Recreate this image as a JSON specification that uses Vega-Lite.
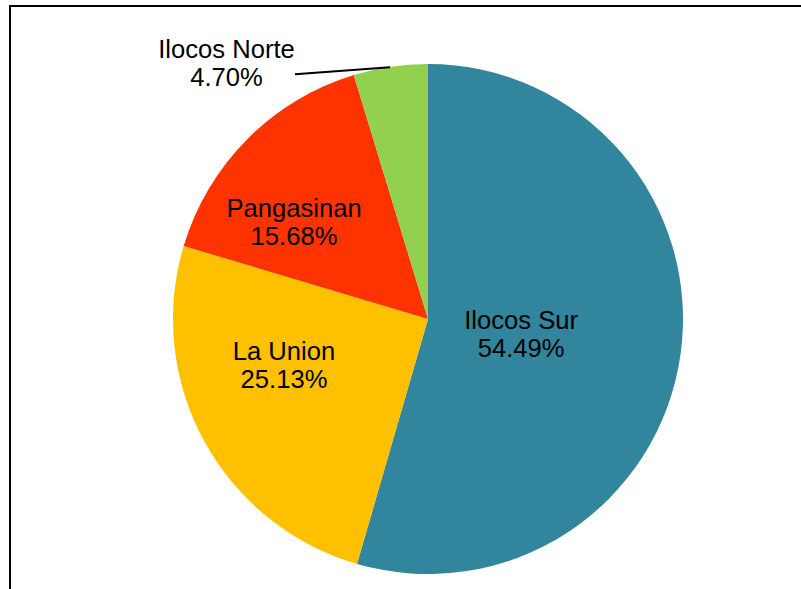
{
  "$schema": "https://vega.github.io/schema/vega-lite/v6.json",
  "width": 836,
  "height": 626,
  "autosize": {"type": "none"},
  "padding": {"left": 10, "top": 6, "right": -45, "bottom": -43},
  "background": "#ffffff",
  "config": {"view": {"stroke": "#000000", "strokeWidth": 2}},
  "data": {"values": [
    {"province": "Ilocos Sur", "share": 0.5449},
    {"province": "La Union", "share": 0.2513},
    {"province": "Pangasinan", "share": 0.1568},
    {"province": "Ilocos Norte", "share": 0.0470}
  ]},
  "layer": [
    {
      "mark": {"type": "arc", "outerRadius": 255},
      "encoding": {
        "theta": {"field": "share", "type": "quantitative", "stack": true},
        "order": {"field": "share", "sort": "descending"},
        "color": {"field": "province", "type": "nominal",
          "scale": {"domain": ["Ilocos Sur", "La Union", "Pangasinan", "Ilocos Norte"], "range": ["#31859C", "#FFC000", "#FF3300", "#92D050"]},
          "legend": null}
      }
    },
    {
      "mark": {"type": "text", "radius": 94, "dy": -3, "font": "Liberation Sans", "fontSize": 25.6, "baseline": "alphabetic", "align": "center", "color": "#000000"},
      "encoding": {
        "theta": {"field": "share", "type": "quantitative", "stack": true},
        "order": {"field": "share", "sort": "descending"},
        "text": {"condition": {"test": "datum.province === 'Ilocos Sur'", "field": "province"}, "value": ""}
      }
    },
    {
      "mark": {"type": "text", "radius": 94, "dy": 25, "font": "Liberation Sans", "fontSize": 25.6, "baseline": "alphabetic", "align": "center", "color": "#000000"},
      "encoding": {
        "theta": {"field": "share", "type": "quantitative", "stack": true},
        "order": {"field": "share", "sort": "descending"},
        "text": {"condition": {"test": "datum.province === 'Ilocos Sur'", "field": "share", "format": ".2%"}, "value": ""}
      }
    },
    {
      "mark": {"type": "text", "radius": 164, "dy": -38, "font": "Liberation Sans", "fontSize": 25.6, "baseline": "alphabetic", "align": "center", "color": "#000000"},
      "encoding": {
        "theta": {"field": "share", "type": "quantitative", "stack": true},
        "order": {"field": "share", "sort": "descending"},
        "text": {"condition": {"test": "datum.province === 'La Union'", "field": "province"}, "value": ""}
      }
    },
    {
      "mark": {"type": "text", "radius": 164, "dy": -10, "font": "Liberation Sans", "fontSize": 25.6, "baseline": "alphabetic", "align": "center", "color": "#000000"},
      "encoding": {
        "theta": {"field": "share", "type": "quantitative", "stack": true},
        "order": {"field": "share", "sort": "descending"},
        "text": {"condition": {"test": "datum.province === 'La Union'", "field": "share", "format": ".2%"}, "value": ""}
      }
    },
    {
      "mark": {"type": "text", "radius": 189, "dy": 31, "font": "Liberation Sans", "fontSize": 25.6, "baseline": "alphabetic", "align": "center", "color": "#000000"},
      "encoding": {
        "theta": {"field": "share", "type": "quantitative", "stack": true},
        "order": {"field": "share", "sort": "descending"},
        "text": {"condition": {"test": "datum.province === 'Pangasinan'", "field": "province"}, "value": ""}
      }
    },
    {
      "mark": {"type": "text", "radius": 189, "dy": 59, "font": "Liberation Sans", "fontSize": 25.6, "baseline": "alphabetic", "align": "center", "color": "#000000"},
      "encoding": {
        "theta": {"field": "share", "type": "quantitative", "stack": true},
        "order": {"field": "share", "sort": "descending"},
        "text": {"condition": {"test": "datum.province === 'Pangasinan'", "field": "share", "format": ".2%"}, "value": ""}
      }
    },
    {
      "mark": {"type": "text", "radius": 255, "dx": -164, "dy": -9, "font": "Liberation Sans", "fontSize": 25.6, "baseline": "alphabetic", "align": "center", "color": "#000000"},
      "encoding": {
        "theta": {"field": "share", "type": "quantitative", "stack": true},
        "order": {"field": "share", "sort": "descending"},
        "text": {"condition": {"test": "datum.province === 'Ilocos Norte'", "field": "province"}, "value": ""}
      }
    },
    {
      "mark": {"type": "text", "radius": 255, "dx": -164, "dy": 19, "font": "Liberation Sans", "fontSize": 25.6, "baseline": "alphabetic", "align": "center", "color": "#000000"},
      "encoding": {
        "theta": {"field": "share", "type": "quantitative", "stack": true},
        "order": {"field": "share", "sort": "descending"},
        "text": {"condition": {"test": "datum.province === 'Ilocos Norte'", "field": "share", "format": ".2%"}, "value": ""}
      }
    },
    {
      "transform": [{"filter": "datum.province === 'Ilocos Norte'"}],
      "mark": {"type": "rule", "strokeWidth": 2, "color": "#000000"},
      "encoding": {
        "x": {"datum": -0.149, "type": "quantitative", "scale": {"domain": [-1.6392, 1.6392], "nice": false, "zero": false}, "axis": null},
        "y": {"datum": 0.987, "type": "quantitative", "scale": {"domain": [-1.2275, 1.2275], "nice": false, "zero": false}, "axis": null},
        "x2": {"datum": -0.5216},
        "y2": {"datum": 0.9596}
      }
    }
  ]
}
